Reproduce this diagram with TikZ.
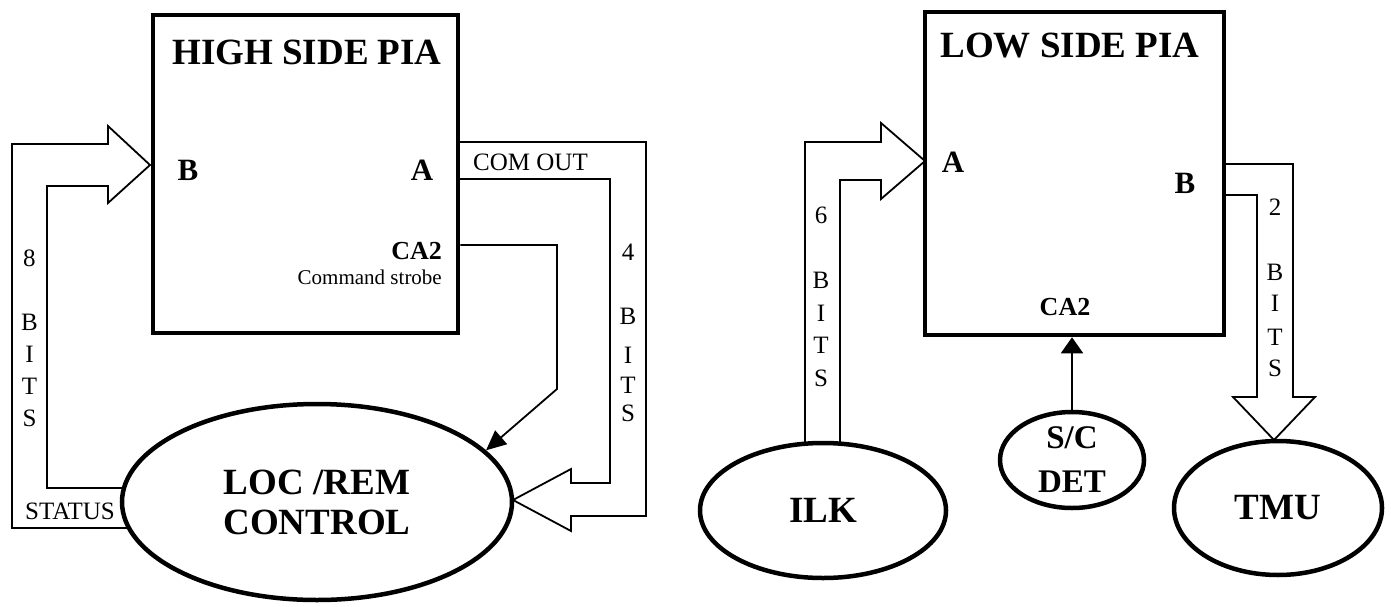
\documentclass[tikz,border=0pt]{standalone}
\usepackage{fontspec}
\setmainfont{Liberation Serif}
\usetikzlibrary{arrows.meta,shapes.geometric}
\newcommand\bigf{\fontsize{37}{40}\selectfont\bfseries}
\newcommand\midf{\fontsize{31}{34}\selectfont\bfseries}
\newcommand\caf{\fontsize{26}{28}\selectfont\bfseries}
\newcommand\smf{\fontsize{25}{28}\selectfont}
\newcommand\tinyf{\fontsize{21}{24}\selectfont}
\tikzset{
 blk/.style={draw, line width=4.5pt, rectangle, inner sep=0pt},
 ell/.style={draw, line width=4.5pt, ellipse, inner sep=0pt, align=center, font=\bigf},
 fat/.style={line width=1.8pt, line join=miter},
 thinarrow/.style={line width=1.8pt, -{Triangle[length=20pt,width=18pt]}},
 big/.style={font=\bigf, inner sep=0pt},
 mid/.style={font=\midf, inner sep=0pt},
 sm/.style={font=\smf, inner sep=0pt},
}
\begin{document}
\begin{tikzpicture}[x=1pt,y=-1pt]
\useasboundingbox (0,0) rectangle (1391,607);

% ---------- High side ----------
\node[blk, minimum width=305pt, minimum height=318pt] (hs) at (305.5,174) {};
\node[big] (hst) at (307,52) {HIGH SIDE PIA};
\node[mid] (hsb) at (188,170) {B};
\node[mid] (hsa) at (422,170) {A};
\node[font=\caf, inner sep=0pt, anchor=east] (hsca) at (442,251) {CA2};
\node[font=\tinyf, inner sep=0pt, anchor=east] (hscs) at (442,277) {Command strobe};

\node[ell, minimum width=390pt, minimum height=196pt] (loc) at (317,502) {LOC /REM\\CONTROL};

% 8 bits status arrow
\draw[fat] (129,528) -- (12,528) -- (12,144) -- (108,144) -- (108,126) -- (150,165)
  -- (108,203) -- (108,186) -- (47,186) -- (47,488) -- (124,488);
\node[sm] (status) at (70,511) {STATUS};
\foreach \t/\yy [count=\i] in {8/258,B/322,I/354,T/386,S/418}
  \node[sm] (hl\i) at (29.5,\yy) {\t};

% 4 bits com out arrow
\draw[fat] (458,142) -- (646,142) -- (646,516) -- (571,516) -- (571,531) -- (513,500)
  -- (571,469) -- (571,483) -- (610,483) -- (610,179) -- (458,179);
\node[sm, anchor=west] (comout) at (473,162) {COM OUT};
\foreach \t/\yy [count=\i] in {4/252,B/316,I/355,T/385,S/413}
  \node[sm] (hr\i) at (628,\yy) {\t};

% CA2 command strobe
\draw[thinarrow] (hs.east |- 0,245) -- (557,245) -- (557,389) -- (loc.17);

% ---------- Low side ----------
\node[blk, minimum width=299pt, minimum height=323pt] (ls) at (1074.5,173.5) {};
\node[big] (lst) at (1070,46) {LOW SIDE PIA};
\node[mid] (lsa) at (953,162) {A};
\node[mid] (lsb) at (1185,183) {B};
\node[font=\caf, inner sep=0pt] (lsca) at (1065,307) {CA2};

\node[ell, minimum width=246pt, minimum height=135pt] (ilk) at (823,510.5) {ILK};
\node[ell, minimum width=208pt, minimum height=134pt] (tmu) at (1278,508) {TMU};
\node[ell, minimum width=144pt, minimum height=96pt, font=\fontsize{33}{44}\selectfont\bfseries] (sc) at (1072,460) {S/C\\DET};

% 6 bits ILK arrow
\draw[fat] (805,444) -- (805,142) -- (881,142) -- (881,123) -- (925,161)
  -- (881,199) -- (881,180) -- (840,180) -- (840,444);
\foreach \t/\yy [count=\i] in {6/215,B/280,I/313,T/345,S/378}
  \node[sm] (ll\i) at (821,\yy) {\t};

% 2 bits TMU arrow
\draw[fat] (1224,164) -- (1293,164) -- (1293,397) -- (1315,397) -- (1274,440)
  -- (1233,397) -- (1257,397) -- (1257,195) -- (1224,195);
\foreach \t/\yy [count=\i] in {2/207,B/272,I/303,T/337,S/368}
  \node[sm] (lr\i) at (1275,\yy) {\t};

% S/C DET to CA2
\draw[line width=1.8pt, -{Triangle[length=16pt,width=22pt]}] (sc.north) -- (sc.north |- ls.south);
\end{tikzpicture}
\end{document}
